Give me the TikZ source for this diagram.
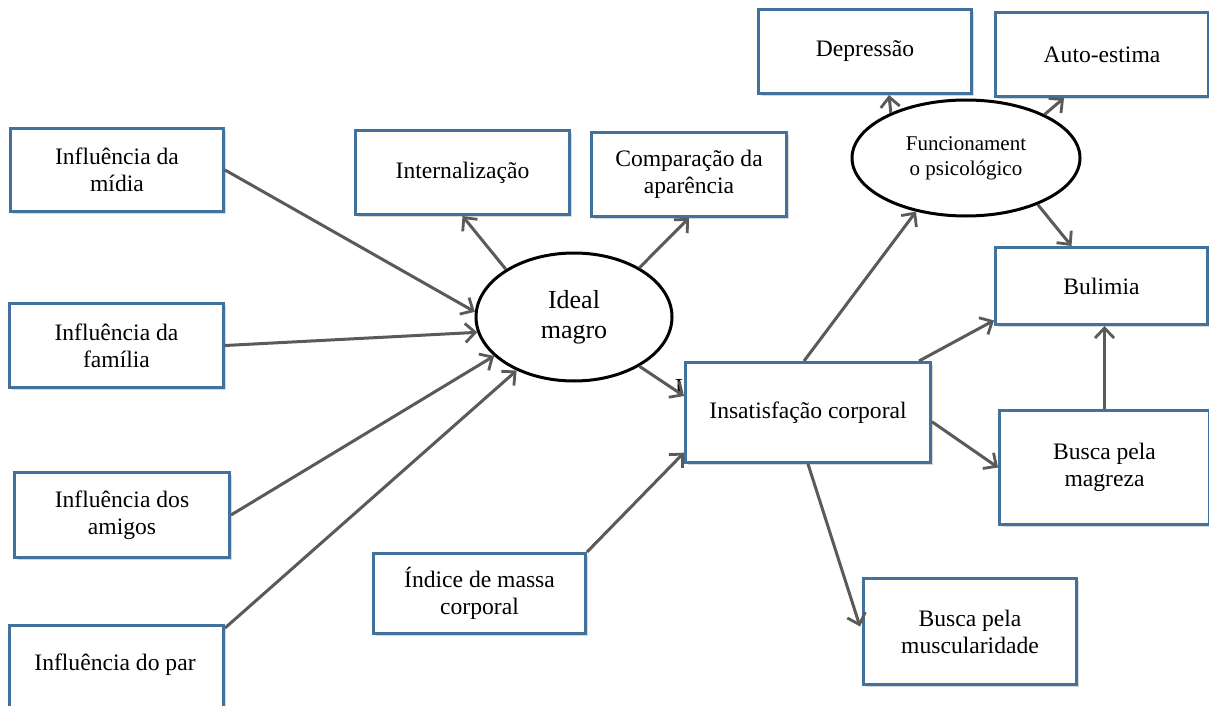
\documentclass[tikz,border=0pt]{standalone}
\usepackage{fontspec}
\setmainfont{Liberation Serif}
\usetikzlibrary{arrows.meta,shapes.geometric,shadows,calc}
\definecolor{boxblue}{RGB}{65,113,156}
\definecolor{arrowgray}{RGB}{90,90,90}
\begin{document}
\begin{tikzpicture}[x=1pt,y=-1pt,
  box/.style={rectangle, draw=boxblue, line width=3pt, fill=white, inner sep=0pt,
    anchor=north west, align=center, font=\fontsize{23.6}{27}\selectfont,
    drop shadow={shadow xshift=2.5pt, shadow yshift=-2.5pt, opacity=0.3, fill=gray}},
  oval/.style={ellipse, draw=black, line width=3pt, fill=white, inner sep=0pt, align=center},
  link/.style={draw=arrowgray, line width=3pt,
    -{Straight Barb[length=10pt, width=19pt, line width=2.8pt]}}]
\useasboundingbox (0,0) rectangle (1209,706);
\clip (0,0) rectangle (1209,706);
\fill[white] (0,0) rectangle (1209,706);

% stray glyph left of the body-dissatisfaction box
\node[font=\fontsize{26}{30}\selectfont, inner sep=0pt] (glyph) at (679,388) {I};

% influence boxes (left column)
\node[box, minimum width=213pt, minimum height=83pt] (midia) at (9,127) {Influência da\\mídia};
\node[box, minimum width=214pt, minimum height=84pt] (familia) at (8,302) {Influência da\\família};
\node[box, minimum width=215pt, minimum height=85pt] (amigos) at (13,471) {Influência dos\\amigos};
\node[box, minimum width=214pt, minimum height=100pt] (parbox) at (8,624) {};
\node[font=\fontsize{23.6}{27}\selectfont, inner sep=0pt] (par) at (115,665) {Influência do par};

% middle boxes
\node[box, minimum width=214pt, minimum height=84pt] (intern) at (354,129) {Internalização};
\node[box, minimum width=195pt, minimum height=84pt] (comp) at (590,131) {Comparação da\\aparência};
\node[box, minimum width=212pt, minimum height=80pt] (indice) at (372,552) {Índice de massa\\corporal};
\node[box, minimum width=245pt, minimum height=100pt] (insat) at (684,361) {Insatisfação corporal};

% outcome boxes (right)
\node[box, minimum width=213pt, minimum height=84pt] (dep) at (757,8) {Depressão};
\node[box, minimum width=213pt, minimum height=84pt] (auto) at (994,11) {Auto-estima};
\node[box, minimum width=212pt, minimum height=77pt] (bul) at (994,246) {Bulimia};
\node[box, minimum width=210pt, minimum height=114pt] (mag) at (998,409) {Busca pela\\magreza};
\node[box, minimum width=213pt, minimum height=106pt] (musc) at (862,577) {Busca pela\\muscularidade};

% latent constructs
\node[oval, minimum width=196pt, minimum height=128pt,
  font=\fontsize{26}{30}\selectfont] (ideal) at (574,317) {Ideal\\magro};
\node[oval, minimum width=228pt, minimum height=116pt,
  font=\fontsize{21}{25}\selectfont] (func) at (966,158) {Funcionament\\o psicológico};

% paths into the thin ideal
\draw[link] (midia.east) -- (ideal.177);
\draw[link] (familia.east) -- (ideal.189);
\draw[link] (amigos.east) -- (ideal.206);
\draw[link] ($(parbox.north east)+(0,4)$) -- (ideal.223);

% paths out of the thin ideal
\draw[link] (ideal.145) -- (intern.south);
\draw[link] (ideal.37) -- (comp.south);
\draw[link] (ideal.-37) -- ($(insat.north west)!0.34!(insat.south west)$);
\draw[link] (indice.north east) -- ($(insat.north west)!0.89!(insat.south west)$);

% paths out of body dissatisfaction
\draw[link] ($(insat.north)+(-4,0)$) -- (func.227);
\draw[link] ($(insat.north east)+(-13,0)$) -- ($(bul.north west)!0.93!(bul.south west)$);
\draw[link] ($(insat.north east)!0.59!(insat.south east)$) -- (mag.west);
\draw[link] (insat.south) -- ($(musc.west)+(-2,-5)$);

% psychological functioning
\draw[link] (func.149) -- ($(dep.south)+(24,0)$);
\draw[link] (func.29) -- ($(auto.south)+(-38,0)$);
\draw[link] (func.-33) -- ($(bul.north)+(-30,0)$);

% drive for thinness to bulimia
\draw[link] (mag.north) -- (mag.north |- bul.south);
\end{tikzpicture}
\end{document}
